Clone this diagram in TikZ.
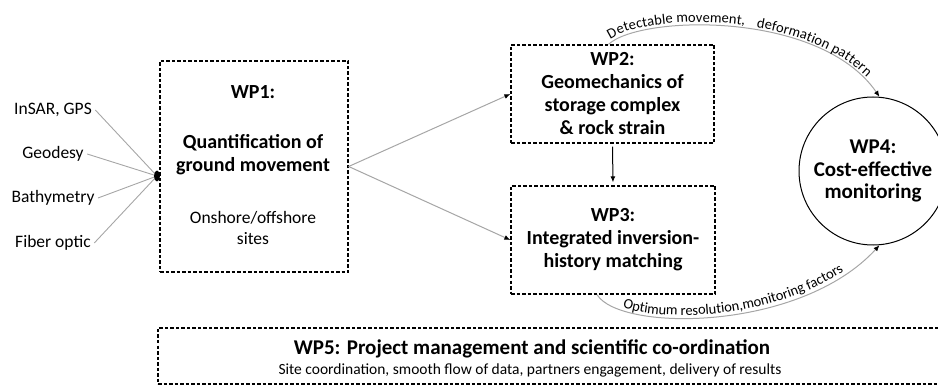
\documentclass[tikz,border=0pt]{standalone}
\usepackage{fontspec}
\setmainfont{Carlito}
\usetikzlibrary{arrows.meta,decorations.text}
\newcommand\arcfont{\fontsize{14.5}{16}\selectfont}
\tikzset{
  wpbox/.style={draw,dashed,dash pattern=on 3.5pt off 2pt,line width=1.3pt},
  wptext/.style={font=\fontsize{20}{23}\selectfont\bfseries,align=center},
  plaintext/.style={font=\fontsize{17.5}{21}\selectfont,align=center},
  feed/.style={draw=gray!70,line width=0.9pt},
  flow/.style={draw=gray!70,line width=1pt,-{Latex[color=black,length=6pt,width=5pt]}},
}
\begin{document}
\begin{tikzpicture}[x=1pt,y=-1pt]
  \useasboundingbox (0,0) rectangle (938,385);
  % data sources
  \node[plaintext] (insar) at (53,110) {InSAR, GPS};
  \node[plaintext] (geodesy) at (53,154) {Geodesy};
  \node[plaintext] (bathy) at (53,198) {Bathymetry};
  \node[plaintext] (fiber) at (53,243) {Fiber optic};
  \coordinate (hub) at (157,176);
  \draw[feed] (insar.east) -- (hub);
  \draw[feed] (geodesy.east) -- (hub);
  \draw[feed] (bathy.east) -- (hub);
  \draw[feed] (fiber.east) -- (hub);
  \fill (hub) ellipse (3 and 5.5);
  % work packages
  \node[wpbox,minimum width=188pt,minimum height=211pt] (wp1) at (254,166.5) {};
  \node[wptext] (wp1title) at (253,92) {WP1:};
  \node[wptext] (wp1main) at (253,155) {Quantification of\\ground movement};
  \node[plaintext] (wp1sites) at (253,228) {Onshore/offshore\\sites};
  \node[wpbox,wptext,minimum width=203pt,minimum height=98pt] (wp2) at (612.5,94)
    {WP2:\\Geomechanics of\\storage complex\\\& rock strain};
  \node[wpbox,wptext,minimum width=204pt,minimum height=108pt] (wp3) at (613,240)
    {WP3:\\Integrated inversion-\\history matching};
  \node[draw,circle,line width=1pt,minimum size=148pt,wptext,
    font=\fontsize{21}{22.5}\selectfont\bfseries] (wp4) at (873,171)
    {WP4:\\Cost-effective\\monitoring};
  \node[wpbox,minimum width=802pt,minimum height=56pt] (wp5) at (559,356) {};
  \node[font=\fontsize{21}{25}\selectfont\bfseries] (wp5title) at (532,349)
    {WP5: Project management and scientific co-ordination};
  \node[font=\fontsize{15.5}{18}\selectfont] (wp5sub) at (530,370)
    {Site coordination, smooth flow of data, partners engagement, delivery of results};
  % links
  \draw[flow] (wp1.east) -- (wp2.west);
  \draw[flow] (wp1.east) -- (wp3.west);
  \draw[line width=1pt,-{Latex[length=6pt,width=5pt]},shorten >=3pt,shorten <=3pt] (wp2.south) -- (wp3.north);
  \draw[flow,postaction={decorate,decoration={text along path,raise=3pt,
      text align={left indent=4pt},
      text={|\arcfont|Detectable movement,{\hspace{0.8em}}deformation pattern}}}]
    ([xshift=-4pt]wp2.north) .. controls (640,15) and (820,10) .. (wp4.85);
  \draw[flow,postaction={decorate,decoration={text along path,raise=3pt,
      text align={left indent=30pt},
      text={|\arcfont|Optimum resolution,monitoring factors}}}]
    ([xshift=-16pt]wp3.south) .. controls (620,332) and (800,332) .. (wp4.-85);
\end{tikzpicture}
\end{document}
